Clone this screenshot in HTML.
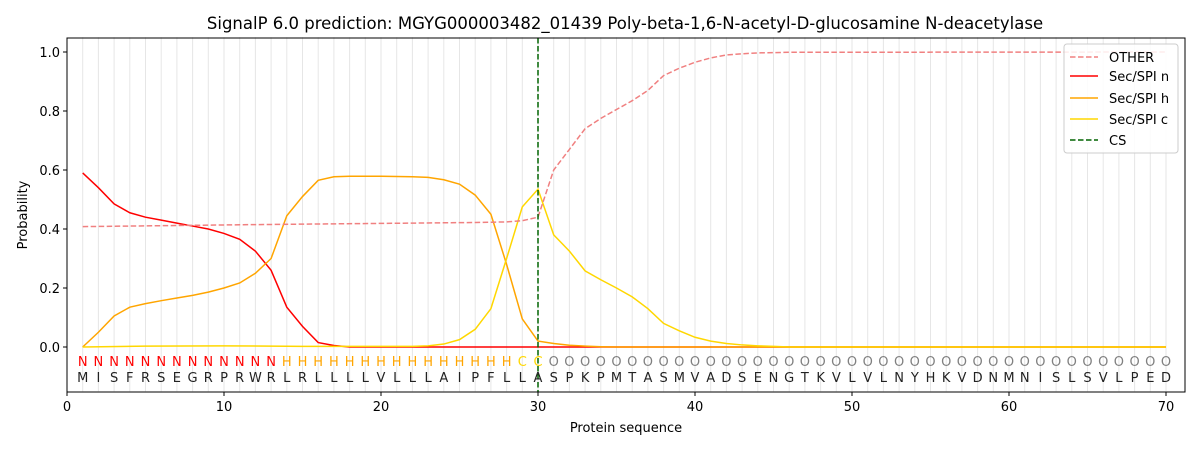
<!DOCTYPE html>
<html><head><meta charset="utf-8"><style>body{margin:0;background:#fff}svg{display:block;font-family:"DejaVu Sans","Liberation Sans",sans-serif}</style></head><body>
<svg width="1200" height="450" viewBox="0 0 1200 450">
<rect width="1200" height="450" fill="#fff"/>
<text x="625" y="29" font-size="16.5" text-anchor="middle">SignalP 6.0 prediction: MGYG000003482_01439 Poly-beta-1,6-N-acetyl-D-glucosamine N-deacetylase</text>
<g transform="translate(67,347) scale(15.7,-295)" fill="none">
<path stroke="#e6e6e6" stroke-width="1" vector-effect="non-scaling-stroke" d="M1 -0.15V1.05M2 -0.15V1.05M3 -0.15V1.05M4 -0.15V1.05M5 -0.15V1.05M6 -0.15V1.05M7 -0.15V1.05M8 -0.15V1.05M9 -0.15V1.05M10 -0.15V1.05M11 -0.15V1.05M12 -0.15V1.05M13 -0.15V1.05M14 -0.15V1.05M15 -0.15V1.05M16 -0.15V1.05M17 -0.15V1.05M18 -0.15V1.05M19 -0.15V1.05M20 -0.15V1.05M21 -0.15V1.05M22 -0.15V1.05M23 -0.15V1.05M24 -0.15V1.05M25 -0.15V1.05M26 -0.15V1.05M27 -0.15V1.05M28 -0.15V1.05M29 -0.15V1.05M30 -0.15V1.05M31 -0.15V1.05M32 -0.15V1.05M33 -0.15V1.05M34 -0.15V1.05M35 -0.15V1.05M36 -0.15V1.05M37 -0.15V1.05M38 -0.15V1.05M39 -0.15V1.05M40 -0.15V1.05M41 -0.15V1.05M42 -0.15V1.05M43 -0.15V1.05M44 -0.15V1.05M45 -0.15V1.05M46 -0.15V1.05M47 -0.15V1.05M48 -0.15V1.05M49 -0.15V1.05M50 -0.15V1.05M51 -0.15V1.05M52 -0.15V1.05M53 -0.15V1.05M54 -0.15V1.05M55 -0.15V1.05M56 -0.15V1.05M57 -0.15V1.05M58 -0.15V1.05M59 -0.15V1.05M60 -0.15V1.05M61 -0.15V1.05M62 -0.15V1.05M63 -0.15V1.05M64 -0.15V1.05M65 -0.15V1.05M66 -0.15V1.05M67 -0.15V1.05M68 -0.15V1.05M69 -0.15V1.05M70 -0.15V1.05"/>
<polyline stroke="#ff0000" stroke-width="1.5" vector-effect="non-scaling-stroke" points="1,0.59 2,0.54 3,0.485 4,0.455 5,0.44 6,0.43 7,0.42 8,0.41 9,0.4 10,0.385 11,0.365 12,0.325 13,0.26 14,0.135 15,0.07 16,0.015 17,0.005 18,0 70,0"/>
<polyline stroke="#ffa500" stroke-width="1.5" vector-effect="non-scaling-stroke" points="1,0 2,0.05 3,0.105 4,0.135 5,0.147 6,0.157 7,0.166 8,0.175 9,0.186 10,0.2 11,0.217 12,0.25 13,0.3 14,0.445 15,0.51 16,0.565 17,0.577 18,0.579 19,0.579 20,0.579 21,0.578 22,0.577 23,0.575 24,0.567 25,0.552 26,0.515 27,0.45 28,0.28 29,0.095 30,0.02 31,0.012 32,0.006 33,0.003 34,0.001 35,0 70,0"/>
<polyline stroke="#ffd700" stroke-width="1.5" vector-effect="non-scaling-stroke" points="1,0 5,0.003 10,0.004 15,0.002 22,0.002 23,0.004 24,0.01 25,0.025 26,0.06 27,0.13 28,0.3 29,0.475 30,0.535 31,0.38 32,0.325 33,0.258 34,0.228 35,0.2 36,0.17 37,0.13 38,0.08 39,0.055 40,0.033 41,0.02 42,0.012 43,0.007 44,0.004 45,0.002 46,0 70,0"/>
</g>
<polyline fill="none" stroke="#f08080" stroke-width="1.5" stroke-dasharray="5.5,2.5" points="82.7,226.6 255.4,224.6 475.2,222.5 506.6,221.9 522.3,220.7 538,217.2 553.7,170 569.4,149.4 585.1,128.7 600.8,118.4 616.5,109.5 632.2,100.7 647.9,90.4 663.6,75.6 679.3,68.2 695,62.3 710.7,57.9 726.4,54.95 742.1,53.8 757.8,52.9 789.2,52.3 1166,52"/>
<line x1="538" y1="38" x2="538" y2="392" stroke="#006400" stroke-width="1.5" stroke-dasharray="5.5,2.5"/>
<g font-size="13" text-anchor="middle">
<text y="366" x="82.7 98.4 114.1 129.8 145.5 161.2 176.9 192.6 208.3 224 239.7 255.4 271.1" fill="#ff0000">NNNNNNNNNNNNN</text>
<text y="366" x="286.8 302.5 318.2 333.9 349.6 365.3 381 396.7 412.4 428.1 443.8 459.5 475.2 490.9 506.6" fill="#ffa500">HHHHHHHHHHHHHHH</text>
<text y="366" x="522.3 538" fill="#ffd700">CC</text>
<text y="366" fill="#808080" x="553.7 569.4 585.1 600.8 616.5 632.2 647.9 663.6 679.3 695 710.7 726.4 742.1 757.8 773.5 789.2 804.9 820.6 836.3 852 867.7 883.4 899.1 914.8 930.5 946.2 961.9 977.6 993.3 1009 1024.7 1040.4 1056.1 1071.8 1087.5 1103.2 1118.9 1134.6 1150.3 1166">OOOOOOOOOOOOOOOOOOOOOOOOOOOOOOOOOOOOOOOO</text>
<text y="382" fill="#222" x="82.7 98.4 114.1 129.8 145.5 161.2 176.9 192.6 208.3 224 239.7 255.4 271.1 286.8 302.5 318.2 333.9 349.6 365.3 381 396.7 412.4 428.1 443.8 459.5 475.2 490.9 506.6 522.3 538 553.7 569.4 585.1 600.8 616.5 632.2 647.9 663.6 679.3 695 710.7 726.4 742.1 757.8 773.5 789.2 804.9 820.6 836.3 852 867.7 883.4 899.1 914.8 930.5 946.2 961.9 977.6 993.3 1009 1024.7 1040.4 1056.1 1071.8 1087.5 1103.2 1118.9 1134.6 1150.3 1166">MISFRSEGRPRWRLRLLLLVLLLAIPFLLASPKPMTASMVADSENGTKVLVLNYHKVDNMNISLSVLPED</text>
</g>
<rect x="67" y="38" width="1118" height="354" fill="none" stroke="#000" stroke-width="1"/>
<g stroke="#000" stroke-width="1">
<path d="M67 392v4M224 392v4M381 392v4M538 392v4M695 392v4M852 392v4M1009 392v4M1166 392v4M67 347h-4M67 288h-4M67 229h-4M67 170h-4M67 111h-4M67 52h-4"/>
</g>
<g font-size="13" fill="#000">
<g text-anchor="middle"><text x="67" y="411">0</text><text x="224" y="411">10</text><text x="381" y="411">20</text><text x="538" y="411">30</text><text x="695" y="411">40</text><text x="852" y="411">50</text><text x="1009" y="411">60</text><text x="1166" y="411">70</text></g>
<g text-anchor="end"><text x="60" y="352">0.0</text><text x="60" y="293">0.2</text><text x="60" y="234">0.4</text><text x="60" y="175">0.6</text><text x="60" y="116">0.8</text><text x="60" y="57">1.0</text></g>
<text x="626" y="432" text-anchor="middle">Protein sequence</text>
<text transform="translate(27,215) rotate(-90)" text-anchor="middle">Probability</text>
</g>
<g>
<rect x="1064" y="44" width="114" height="109" rx="3" fill="#fff" fill-opacity="0.85" stroke="#ccc"/>
<line x1="1070" y1="57" x2="1098" y2="57" stroke="#f08080" stroke-width="1.5" stroke-dasharray="5.5,2.5"/>
<line x1="1070" y1="76" x2="1098" y2="76" stroke="#ff0000" stroke-width="1.5"/>
<line x1="1070" y1="98" x2="1098" y2="98" stroke="#ffa500" stroke-width="1.5"/>
<line x1="1070" y1="119" x2="1098" y2="119" stroke="#ffd700" stroke-width="1.5"/>
<line x1="1070" y1="140" x2="1098" y2="140" stroke="#006400" stroke-width="1.5" stroke-dasharray="5.5,2.5"/>
<g font-size="13"><text x="1109" y="62">OTHER</text><text x="1109" y="81">Sec/SPI n</text><text x="1109" y="103">Sec/SPI h</text><text x="1109" y="124">Sec/SPI c</text><text x="1109" y="145">CS</text></g>
</g>
</svg>
</body></html>
